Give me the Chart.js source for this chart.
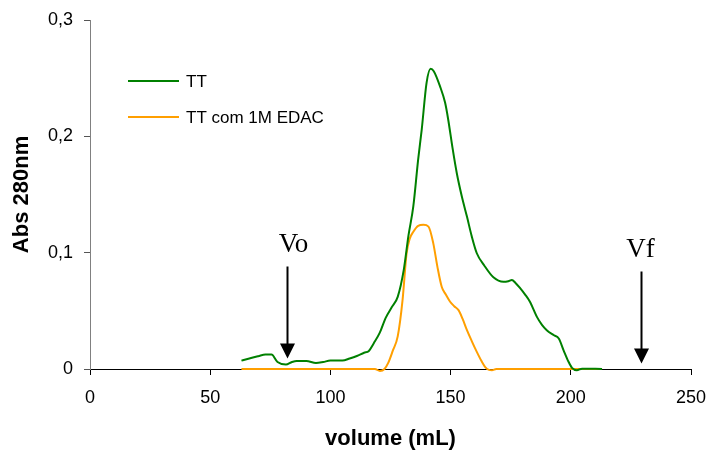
<!DOCTYPE html>
<html>
<head>
<meta charset="utf-8">
<script src="https://cdn.jsdelivr.net/npm/chart.js@4/dist/chart.umd.min.js"></script>
<style>
  html, body { margin: 0; padding: 0; background: #fff; }
  #wrap { width: 708px; height: 453px; }
</style>
</head>
<body>
<div id="wrap"><canvas id="c" width="708" height="453"></canvas></div>
<script>
// Elution profile (volume in mL, absorbance at 280 nm)
const volumeTT = [63, 67, 70, 73, 75.5, 78, 81.5, 84, 86, 90, 94, 97, 100, 105, 108, 111, 114, 116, 118,
  120.5, 123, 125.5, 128, 130.5, 132.5, 134.5, 136.5, 138, 140, 141.7, 143, 145.6, 147.7, 149, 150.8,
  152.6, 154.7, 156.8, 158.8, 160.9, 164, 167.8, 172, 174, 175.5, 177, 179, 181, 183, 185.9, 188, 190,
  193, 195, 197, 199, 200.5, 202.5, 204.7, 213];
const absTT = [0.0072, 0.0095, 0.011, 0.0124, 0.0124, 0.006, 0.0038, 0.006, 0.0069, 0.0069, 0.0052, 0.006,
  0.0072, 0.0072, 0.009, 0.0112, 0.014, 0.0155, 0.022, 0.031, 0.044, 0.053, 0.062, 0.085, 0.115, 0.14,
  0.18, 0.206, 0.246, 0.258, 0.256, 0.243, 0.229, 0.2145, 0.19, 0.168, 0.148, 0.131, 0.114, 0.0995, 0.089,
  0.0788, 0.075, 0.0755, 0.0765, 0.074, 0.0693, 0.064, 0.0578, 0.0448, 0.038, 0.0334, 0.029, 0.0262,
  0.0161, 0.0065, 0.001, -0.0011, 0.0003, 0];

const volumeEDAC = [63, 90, 118.5, 120.6, 122.5, 124, 126, 128, 130, 131.7, 133, 134.5, 136.5, 138.7, 140.8,
  142.8, 144.5, 146.3, 148, 149.8, 151.5, 153.3, 155, 156.8, 158.8, 160.9, 162.8, 164.4, 166, 167.2, 169, 213];
const absEDAC = [0, 0, 0, -0.0017, 0, 0.005, 0.016, 0.028, 0.059, 0.0995, 0.112, 0.118, 0.123, 0.1239, 0.1224,
  0.108, 0.088, 0.0707, 0.064, 0.0578, 0.054, 0.0506, 0.043, 0.0334, 0.024, 0.0147, 0.007, 0.0017, -0.0008,
  -0.0011, 0, 0];

const seriesNames = ['TT', 'TT com 1M EDAC'];

// Void volume and total column volume
const markerNames = ['Vo', 'Vf'];
const markerVolumes = [82, 229];

const toPoints = (xs, ys) => xs.map((x, i) => ({ x: x, y: ys[i] }));

// Legend drawn inside the plot area, upper left
const insideLegend = {
  id: 'insideLegend',
  afterDraw(chart, args, opts) {
    const ctx = chart.ctx;
    ctx.save();
    ctx.font = opts.font;
    ctx.textBaseline = 'middle';
    ctx.fillStyle = '#000';
    chart.data.datasets.forEach((ds, i) => {
      const y = opts.y + i * opts.rowGap;
      ctx.strokeStyle = ds.borderColor;
      ctx.lineWidth = 2;
      ctx.beginPath();
      ctx.moveTo(opts.x, y);
      ctx.lineTo(opts.x + opts.lineLen, y);
      ctx.stroke();
      ctx.fillText(ds.label, opts.x + opts.lineLen + opts.textGap, y + 1);
    });
    ctx.restore();
  }
};

// Arrows marking Vo and Vf on the volume axis
const volumeMarkers = {
  id: 'volumeMarkers',
  afterDatasetsDraw(chart, args, opts) {
    const ctx = chart.ctx;
    const xs = chart.scales.x, ys = chart.scales.y;
    const base = ys.getPixelForValue(0);
    ctx.save();
    ctx.fillStyle = '#000';
    ctx.strokeStyle = '#000';
    markerNames.forEach((name, i) => {
      const px = Math.round(xs.getPixelForValue(markerVolumes[i])) + 0.5;
      const tip = base - opts.lift[i];
      const top = tip - opts.length;
      const head = opts.head;
      ctx.lineWidth = 2;
      ctx.beginPath();
      ctx.moveTo(px, top);
      ctx.lineTo(px, tip - head + 1);
      ctx.stroke();
      ctx.beginPath();
      ctx.moveTo(px - head / 2, tip - head);
      ctx.lineTo(px + head / 2, tip - head);
      ctx.lineTo(px, tip);
      ctx.closePath();
      ctx.fill();
      ctx.font = opts.font;
      ctx.textAlign = 'center';
      ctx.textBaseline = 'alphabetic';
      ctx.fillText(name, px + opts.textShift[i], top - opts.textGap);
    });
    ctx.restore();
  }
};

const commaTick = v => (v === 0 ? '0' : v.toFixed(1).replace('.', ','));

new Chart(document.getElementById('c'), {
  type: 'line',
  data: {
    datasets: [
      {
        label: seriesNames[0],
        data: toPoints(volumeTT, absTT),
        borderColor: '#008000',
        borderWidth: 2,
        pointRadius: 0,
        cubicInterpolationMode: 'monotone',
        clip: false
      },
      {
        label: seriesNames[1],
        data: toPoints(volumeEDAC, absEDAC),
        borderColor: '#ff9f00',
        borderWidth: 2,
        pointRadius: 0,
        cubicInterpolationMode: 'monotone',
        clip: false
      }
    ]
  },
  options: {
    responsive: false,
    animation: false,
    events: [],
    layout: { padding: { left: 0, top: 20, right: 17, bottom: 0 } },
    plugins: {
      legend: { display: false },
      tooltip: { enabled: false },
      insideLegend: {
        x: 128, y: 81, rowGap: 36, lineLen: 51, textGap: 7,
        font: '17px "Liberation Sans", Arial, sans-serif'
      },
      volumeMarkers: {
        lift: [10.5, 5.5], length: 92, head: 15, textGap: 15, textShift: [6, -1],
        font: '27px "Liberation Serif", "Times New Roman", serif'
      }
    },
    scales: {
      x: {
        type: 'linear',
        min: 0, max: 250,
        afterFit: s => { s.height = 84; s.paddingLeft = 0; s.paddingRight = 0; },
        ticks: {
          stepSize: 50,
          padding: 12,
          color: '#000',
          font: { family: '"Liberation Sans", Arial, sans-serif', size: 18 }
        },
        grid: { drawOnChartArea: false, tickLength: 6, color: '#000' },
        border: { color: '#000', width: 1 },
        title: {
          display: true,
          text: 'volume (mL)',
          color: '#000',
          font: { family: '"Liberation Sans", Arial, sans-serif', size: 22, weight: 'bold' },
          padding: { top: 0, bottom: 1 }
        }
      },
      y: {
        min: 0, max: 0.3,
        afterFit: s => { s.width = 90; s.paddingTop = 0; s.paddingBottom = 0; },
        ticks: {
          stepSize: 0.1,
          padding: 11,
          color: '#000',
          font: { family: '"Liberation Sans", Arial, sans-serif', size: 18 },
          callback: commaTick
        },
        grid: { drawOnChartArea: false, tickLength: 6, color: '#555' },
        border: { color: '#808080', width: 1 },
        title: {
          display: true,
          text: 'Abs 280nm',
          color: '#000',
          font: { family: '"Liberation Sans", Arial, sans-serif', size: 22, weight: 'bold' },
          padding: { top: 9, bottom: 0 }
        }
      }
    }
  },
  plugins: [insideLegend, volumeMarkers]
});
</script>
</body>
</html>
